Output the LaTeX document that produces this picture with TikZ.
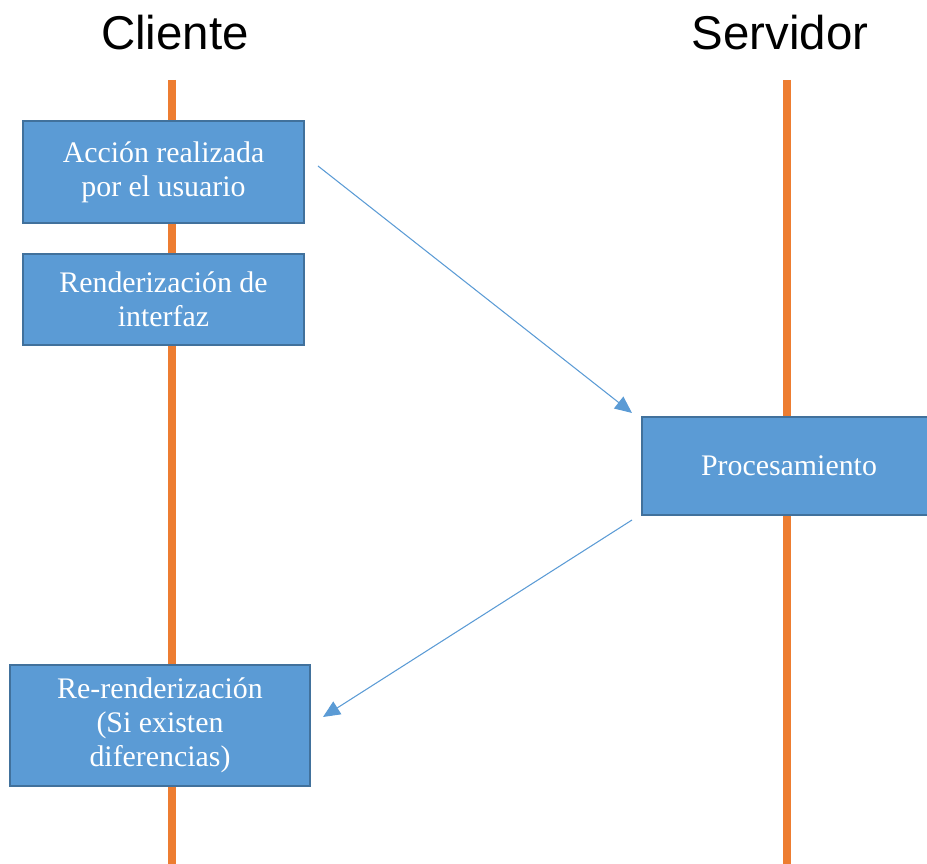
\documentclass[tikz,border=0pt]{standalone}
\usepackage{fontspec}
\setmainfont{Liberation Serif}
\newfontfamily\titlefont{Liberation Sans}
\usetikzlibrary{arrows.meta}
\definecolor{lifeline}{HTML}{ED7D31}
\definecolor{boxfill}{HTML}{5B9BD5}
\definecolor{boxline}{HTML}{41719C}
\begin{document}
\begin{tikzpicture}[x=0.02cm,y=-0.02cm,
  title/.style={font=\titlefont\fontsize{27}{32}\selectfont, anchor=base},
  lane/.style={lifeline, line width=4.5pt},
  stepbox/.style={draw=boxline, fill=boxfill, line width=1.1pt, text=white,
    align=center, inner sep=0pt,
    font=\fontsize{17}{19.5}\selectfont},
  msg/.style={boxfill, line width=0.6pt, -{Triangle[length=0.34cm,width=0.3cm]}}]
  \clip (0,0) rectangle (927,864);

  \node[title] (cli) at (175,50) {Cliente};
  \node[title] (srv) at (780,50) {Servidor};

  \coordinate (cli top) at (172,80);
  \coordinate (cli bot) at (172,864);
  \coordinate (srv top) at (787,80);
  \coordinate (srv bot) at (787,864);
  \draw[lane] (cli top) -- (cli bot);
  \draw[lane] (srv top) -- (srv bot);

  \node[stepbox, minimum width=5.62cm, minimum height=2.04cm] (accion) at (163.5,172)
    {Acción realizada\\por el usuario};
  \node[stepbox, minimum width=5.62cm, minimum height=1.82cm] (render) at (163.5,299.5)
    {Renderización de\\interfaz};
  \node[stepbox, minimum width=5.88cm, minimum height=1.96cm] (proc) at (789,466)
    {Procesamiento};
  \node[stepbox, minimum width=6cm, minimum height=2.42cm] (rerender) at (160,725.5)
    {Re-renderización\\(Si existen\\diferencias)};

  \coordinate (m1a) at (318,166);
  \coordinate (m1b) at (632,413);
  \coordinate (m2a) at (632,520);
  \coordinate (m2b) at (323,717);
  \draw[msg] (m1a) -- (m1b);
  \draw[msg] (m2a) -- (m2b);
\end{tikzpicture}
\end{document}
